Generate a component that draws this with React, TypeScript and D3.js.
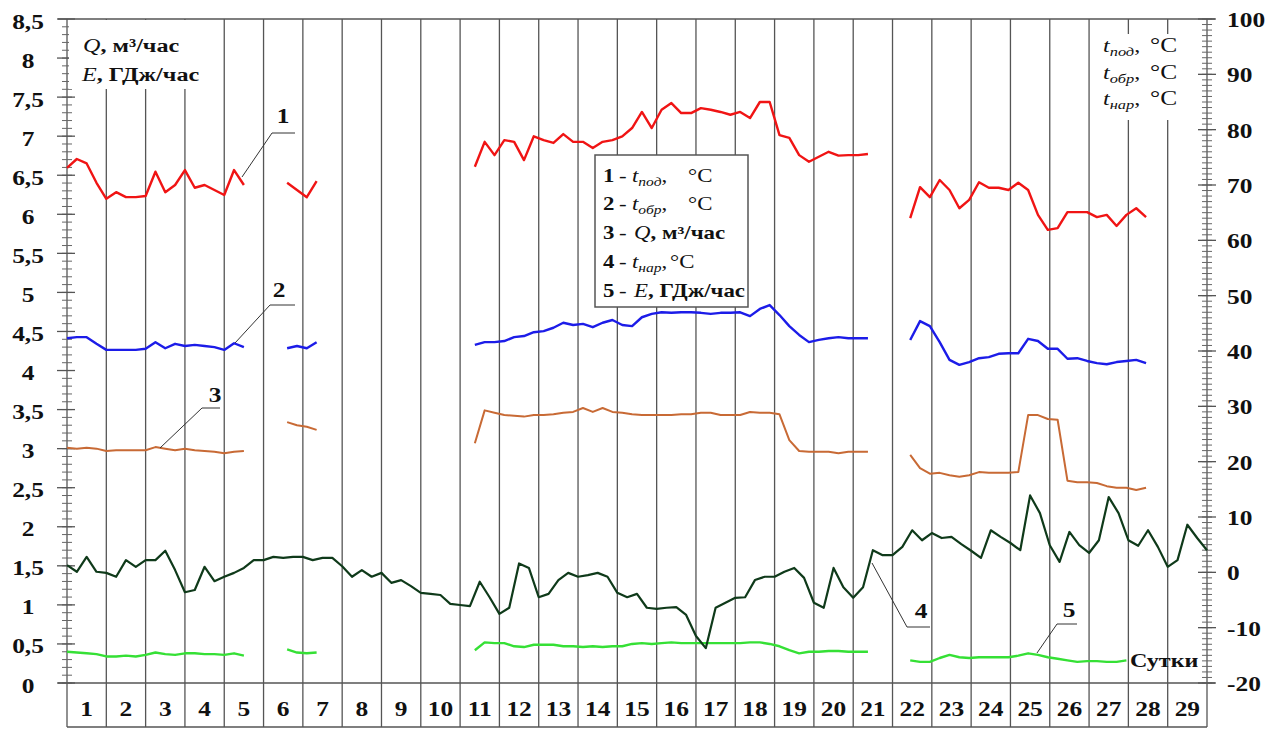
import React from 'react';
import * as d3 from 'd3';

const W = 1284;
const H = 729;
const STEP = 0.25; // days between samples
const FONT = "'Liberation Serif', 'Times New Roman', serif";
const SX = 1.27; // the source text is drawn wide

const dayLabels = [1, 2, 3, 4, 5, 6, 7, 8, 9, 10, 11, 12, 13, 14, 15, 16, 17, 18, 19, 20, 21, 22, 23, 24, 25, 26, 27, 28, 29];
const leftTicks = [0, 0.5, 1, 1.5, 2, 2.5, 3, 3.5, 4, 4.5, 5, 5.5, 6, 6.5, 7, 7.5, 8, 8.5];
const rightTicks = [-20, -10, 0, 10, 20, 30, 40, 50, 60, 70, 80, 90, 100];

// start day of each recorded run (gaps between them)
const runStarts = [0, 5.6, 10.375, 21.45];

// 1 - t_под, °C
const supplyA = [73.1, 74.7, 73.9, 70.4, 67.5, 68.7, 67.8, 67.8, 68.0, 72.4, 68.7, 70.0, 72.7, 69.5, 70.0, 69.1, 68.2, 72.7, 70.0];
const supplyB = [70.4, 69.1, 67.8, 70.7];
const supplyC = [73.3, 77.8, 75.4, 78.1, 77.8, 74.5, 78.8, 78.1, 77.6, 79.2, 77.8, 77.8, 76.7, 77.8, 78.1, 78.8, 80.3, 83.2, 80.3, 83.6, 84.8, 83.0, 83.0, 83.9, 83.6, 83.2, 82.7, 83.2, 82.1, 85.0, 85.0, 79.0, 78.5, 75.4, 74.2, 75.1, 76.0, 75.3, 75.4, 75.4, 75.6];
const supplyD = [64.0, 69.6, 67.8, 70.9, 69.1, 65.8, 67.3, 70.5, 69.5, 69.5, 69.1, 70.4, 69.1, 64.6, 61.9, 62.2, 65.1, 65.1, 65.1, 64.2, 64.6, 62.6, 64.6, 65.8, 64.2];

// 2 - t_обр, °C
const returnA = [42.3, 42.5, 42.5, 41.3, 40.2, 40.2, 40.2, 40.2, 40.4, 41.6, 40.5, 41.3, 40.9, 41.1, 40.9, 40.7, 40.2, 41.4, 40.7];
const returnB = [40.5, 40.9, 40.5, 41.6];
const returnC = [41.1, 41.6, 41.6, 41.8, 42.5, 42.7, 43.4, 43.6, 44.2, 45.1, 44.7, 44.9, 44.3, 45.1, 45.6, 44.7, 44.5, 46.1, 46.7, 47.0, 46.9, 47.0, 47.0, 46.9, 46.7, 46.9, 46.9, 47.0, 46.3, 47.6, 48.3, 46.5, 44.5, 42.9, 41.6, 42.0, 42.3, 42.5, 42.3, 42.3, 42.3];
const returnD = [42.0, 45.4, 44.5, 41.6, 38.4, 37.5, 38.0, 38.7, 38.9, 39.5, 39.6, 39.6, 42.2, 41.8, 40.4, 40.4, 38.6, 38.7, 38.2, 37.8, 37.6, 38.0, 38.2, 38.4, 37.8];

// 3 - Q, м³/час
const flowA = [3.01, 3.0, 3.01, 3.0, 2.97, 2.98, 2.98, 2.98, 2.98, 3.02, 3.0, 2.98, 3.0, 2.98, 2.97, 2.96, 2.94, 2.96, 2.97];
const flowB = [3.34, 3.3, 3.28, 3.24];
const flowC = [3.07, 3.49, 3.46, 3.43, 3.42, 3.41, 3.43, 3.43, 3.44, 3.46, 3.47, 3.52, 3.47, 3.52, 3.47, 3.46, 3.44, 3.43, 3.43, 3.43, 3.43, 3.44, 3.44, 3.46, 3.46, 3.43, 3.43, 3.43, 3.47, 3.46, 3.46, 3.44, 3.11, 2.97, 2.96, 2.96, 2.96, 2.94, 2.96, 2.96, 2.96];
const flowD = [2.92, 2.75, 2.68, 2.69, 2.66, 2.64, 2.66, 2.7, 2.69, 2.69, 2.69, 2.7, 3.43, 3.43, 3.38, 3.37, 2.59, 2.57, 2.57, 2.56, 2.52, 2.5, 2.5, 2.47, 2.5];

// 4 - t_нар, °C (whole month)
const outdoor = [
  1.3, 0.1, 2.8, 0.1, -0.1, -0.8, 2.2, 1.0, 2.2, 2.2, 3.9, 0.4, -3.6, -3.2, 1.0, -1.6, -0.8, -0.1, 0.8, 2.2,
  2.2, 2.8, 2.6, 2.8, 2.8, 2.2, 2.6, 2.6, 1.1, -0.8, 0.4, -0.8, -0.1, -1.9, -1.4, -2.5, -3.7, -3.9, -4.1, -5.7,
  -5.9, -6.1, -1.7, -4.5, -7.5, -6.4, 1.6, 0.8, -4.5, -3.9, -1.4, -0.1, -0.8, -0.5, -0.1, -0.8, -3.7, -4.5, -3.9, -6.4,
  -6.6, -6.4, -6.3, -7.7, -11.5, -13.7, -6.4, -5.5, -4.6, -4.5, -1.4, -0.8, -0.8, 0.1, 0.8, -1.0, -5.5, -6.4, 0.8, -2.7,
  -4.6, -2.7, 4.0, 3.1, 3.1, 4.6, 7.6, 5.8, 7.1, 6.2, 6.4, 5.1, 3.9, 2.6, 7.6, 6.4, 5.3, 4.0, 13.9, 10.7,
  4.9, 1.9, 7.3, 4.9, 3.5, 5.8, 13.6, 10.7, 5.8, 4.8, 7.6, 4.6, 1.0, 2.2, 8.6, 6.2, 4.0,
];

// 5 - E, ГДж/час
const energyA = [0.4, 0.39, 0.38, 0.37, 0.34, 0.34, 0.35, 0.34, 0.36, 0.39, 0.37, 0.36, 0.38, 0.38, 0.37, 0.37, 0.36, 0.38, 0.35];
const energyB = [0.43, 0.39, 0.38, 0.39];
const energyC = [0.42, 0.52, 0.51, 0.51, 0.47, 0.46, 0.49, 0.49, 0.49, 0.47, 0.47, 0.46, 0.47, 0.46, 0.47, 0.47, 0.5, 0.51, 0.5, 0.51, 0.52, 0.51, 0.51, 0.51, 0.51, 0.51, 0.51, 0.51, 0.52, 0.52, 0.5, 0.47, 0.42, 0.38, 0.4, 0.4, 0.41, 0.41, 0.4, 0.4, 0.4];
const energyD = [0.29, 0.27, 0.27, 0.32, 0.36, 0.33, 0.32, 0.33, 0.33, 0.33, 0.33, 0.35, 0.38, 0.36, 0.33, 0.31, 0.29, 0.27, 0.28, 0.28, 0.27, 0.27, 0.29];

const x = d3.scaleLinear().domain([0, 29]).range([67, 1207]);
const yL = d3.scaleLinear().domain([0, 8.5]).range([683, 19]);
const yR = d3.scaleLinear().domain([-20, 100]).range([683, 19]);

const series = [
  { runs: [energyA, energyB, energyC, energyD], starts: runStarts, y: yL, color: '#35e035', width: 2.4 },
  { runs: [outdoor], starts: [0], y: yR, color: '#0f3a1a', width: 2.2 },
  { runs: [flowA, flowB, flowC, flowD], starts: runStarts, y: yL, color: '#c86a35', width: 2 },
  { runs: [returnA, returnB, returnC, returnD], starts: runStarts, y: yR, color: '#1c1ce8', width: 2.4 },
  { runs: [supplyA, supplyB, supplyC, supplyD], starts: runStarts, y: yR, color: '#f01414', width: 2.4 },
];

const tf = (px: number, py: number) => `translate(${px},${py}) scale(${SX},1)`;
const comma = (v: number) => String(v).replace('.', ',');

const callouts = [
  { label: '1', pts: [[295, 133], [272, 133], [242, 177]], tx: 283, ty: 123 },
  { label: '2', pts: [[295, 305], [270, 305], [235, 343]], tx: 279, ty: 297 },
  { label: '3', pts: [[220, 408], [202, 408], [160, 448]], tx: 215, ty: 402 },
  { label: '4', pts: [[872, 563], [907, 627], [930, 627]], tx: 921, ty: 618 },
  { label: '5', pts: [[1077, 624], [1057, 624], [1037, 653]], tx: 1069, ty: 617 },
];

const Sub = ({ base, sub }: { base: string; sub: string }) => (
  <>
    <tspan fontStyle="italic" fontWeight="normal">{base}</tspan>
    <tspan fontStyle="italic" fontWeight="normal" fontSize="0.68em" dy={4}>{sub}</tspan>
    <tspan fontWeight="normal" dy={-4}>,</tspan>
  </>
);

export default function App() {
  const gridX = d3.range(0, 30);
  const minorL = d3.range(0, 85).map((i) => i / 10);
  const minorR = d3.range(-20, 101);

  const legendRows = [182, 210, 239, 268, 297];
  const LF = 18;

  return (
    <svg width={W} height={H} style={{ position: 'absolute', left: 0, top: 0, background: '#fff' }} fontFamily={FONT}>
      <rect width={W} height={H} fill="#fff" />

      {/* day grid */}
      {gridX.map((d) => (
        <line key={d} x1={x(d)} x2={x(d)} y1={19} y2={727} stroke="#555" strokeWidth={1.3} />
      ))}
      <line x1={58} x2={1215} y1={19} y2={19} stroke="#555" strokeWidth={1.3} />
      <line x1={58} x2={1215} y1={683} y2={683} stroke="#555" strokeWidth={1.3} />
      <line x1={67} x2={1207} y1={727} y2={727} stroke="#555" strokeWidth={1.3} />

      {/* left axis ticks */}
      {minorL.map((v) => (
        <line key={'ml' + v} x1={62} x2={72} y1={yL(v)} y2={yL(v)} stroke="#666" strokeWidth={1} />
      ))}
      {leftTicks.map((v) => (
        <line key={'Ml' + v} x1={57} x2={75} y1={yL(v)} y2={yL(v)} stroke="#555" strokeWidth={1.3} />
      ))}
      {/* right axis ticks */}
      {minorR.map((v) => (
        <line key={'mr' + v} x1={1202} x2={1212} y1={yR(v)} y2={yR(v)} stroke="#666" strokeWidth={1} />
      ))}
      {rightTicks.map((v) => (
        <line key={'Mr' + v} x1={1198} x2={1216} y1={yR(v)} y2={yR(v)} stroke="#555" strokeWidth={1.3} />
      ))}

      {/* unit labels */}
      <rect x={69} y={20} width={121} height={69} fill="#fff" />
      <text transform={tf(83, 52)} fontSize={19} fontWeight="bold" fill="#111">
        <tspan fontStyle="italic" fontWeight="normal">Q</tspan>, м³/час
      </text>
      <text transform={tf(82, 81)} fontSize={19} fontWeight="bold" fill="#111">
        <tspan fontStyle="italic" fontWeight="normal">E</tspan>, ГДж/час
      </text>

      <rect x={1094} y={34} width={87} height={86} fill="#fff" />
      {[['под', 52], ['обр', 79], ['нар', 105]].map(([s, yy]) => (
        <g key={s as string}>
          <text transform={tf(1103, yy as number)} fontSize={19} fill="#111">
            <Sub base="t" sub={s as string} />
          </text>
          <text transform={tf(1150, yy as number)} fontSize={20} fill="#111">°C</text>
        </g>
      ))}

      {/* axis labels */}
      {leftTicks.map((v) => (
        <text key={'tl' + v} transform={tf(28, yL(v) + 9.5)} textAnchor="middle" fontSize={20} fontWeight="bold" fill="#111">
          {comma(v)}
        </text>
      ))}
      {rightTicks.map((v) => (
        <text key={'tr' + v} transform={tf(1227, yR(v) + 8)} fontSize={20} fontWeight="bold" fill="#111">
          {v}
        </text>
      ))}
      {dayLabels.map((d) => (
        <text key={'d' + d} transform={tf(x(d - 0.5), 716)} textAnchor="middle" fontSize={20} fontWeight="bold" fill="#111">
          {d}
        </text>
      ))}

      {/* data */}
      {series.map((s, si) =>
        s.runs.map((run, ri) => {
          const start = s.starts[ri];
          const gen = d3
            .line<number>()
            .x((_, i) => x(start + i * STEP))
            .y((v) => s.y(v));
          return (
            <path key={si + '-' + ri} d={gen(run) || ''} fill="none" stroke={s.color} strokeWidth={s.width} strokeLinejoin="round" />
          );
        })
      )}

      {/* callouts */}
      {callouts.map((c) => (
        <g key={c.label}>
          <polyline points={c.pts.map((p) => p.join(',')).join(' ')} fill="none" stroke="#333" strokeWidth={1} />
          <text transform={tf(c.tx, c.ty)} textAnchor="middle" fontSize={20} fontWeight="bold" fill="#111">
            {c.label}
          </text>
        </g>
      ))}

      <text transform={tf(1130, 667)} fontSize={19} fontWeight="bold" fill="#111">Сутки</text>

      {/* legend */}
      <rect x={595} y={155} width={153} height={152} fill="#fff" stroke="#555" strokeWidth={1.5} />
      {legendRows.map((yy, i) => (
        <g key={'lg' + i}>
          <text transform={tf(603, yy)} fontSize={LF} fontWeight="bold" fill="#111">{i + 1}</text>
          <text transform={tf(619, yy)} fontSize={LF} fill="#111">-</text>
        </g>
      ))}
      <text transform={tf(632, legendRows[0])} fontSize={LF} fill="#111"><Sub base="t" sub="под" /></text>
      <text transform={tf(688, legendRows[0])} fontSize={LF} fill="#111">°C</text>
      <text transform={tf(632, legendRows[1])} fontSize={LF} fill="#111"><Sub base="t" sub="обр" /></text>
      <text transform={tf(688, legendRows[1])} fontSize={LF} fill="#111">°C</text>
      <text transform={tf(634, legendRows[2])} fontSize={LF} fontWeight="bold" fill="#111">
        <tspan fontStyle="italic" fontWeight="normal">Q</tspan>, м³/час
      </text>
      <text transform={tf(632, legendRows[3])} fontSize={LF} fill="#111"><Sub base="t" sub="нар" /></text>
      <text transform={tf(670, legendRows[3])} fontSize={LF} fill="#111">°C</text>
      <text transform={tf(634, legendRows[4])} fontSize={LF} fontWeight="bold" fill="#111">
        <tspan fontStyle="italic" fontWeight="normal">E</tspan>, ГДж/час
      </text>
    </svg>
  );
}
